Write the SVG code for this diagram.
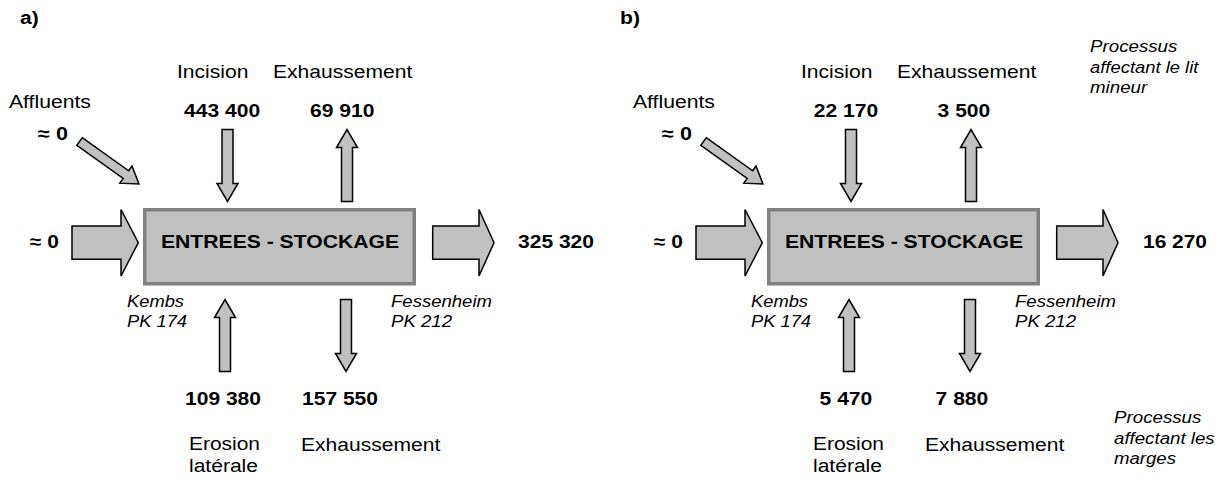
<svg xmlns="http://www.w3.org/2000/svg" xmlns:xlink="http://www.w3.org/1999/xlink" width="1225" height="479" viewBox="0 0 1225 479">
<style>
text{font-family:"Liberation Sans",Arial,sans-serif;fill:#000}
.r{font-size:18px}
.b{font-size:18px;font-weight:bold}
.i{font-size:16px;font-style:italic}
.box{fill:#c0c0c0;stroke:#808080;stroke-width:3.5}
.arr{fill:#c0c0c0;stroke:#000;stroke-width:1.5;stroke-linejoin:miter}
</style>
<defs>
<polygon id="down" class="arr" points="-5.5,0 5.5,0 5.5,54 10.5,54 0,72 -10.5,54 -5.5,54"/>
<polygon id="up" class="arr" points="-5.5,72 5.5,72 5.5,18 10.5,18 0,0 -10.5,18 -5.5,18"/>
<polygon id="diag" class="arr" points="0,-4.7 57,-4.7 57,-10.5 73,0 57,10.5 57,4.7 0,4.7"/>
</defs>
<rect width="1225" height="479" fill="#fff"/>

<!-- Panel a -->
<g id="panel-a-label"><text class="b" x="20" y="24" textLength="18.7" lengthAdjust="spacingAndGlyphs">a)</text></g>
<g id="a-box">
<rect class="box" x="144.75" y="209.75" width="269.5" height="74"/>
<text class="b" x="161" y="248" textLength="238" lengthAdjust="spacingAndGlyphs">ENTREES - STOCKAGE</text>
</g>
<g id="a-incision">
<text class="r" x="177" y="78" textLength="71.4" lengthAdjust="spacingAndGlyphs">Incision</text>
<text class="b" x="184" y="117" textLength="76.1" lengthAdjust="spacingAndGlyphs">443 400</text>
</g>
<g id="a-exh-top">
<text class="r" x="273" y="78" textLength="139.3" lengthAdjust="spacingAndGlyphs">Exhaussement</text>
<text class="b" x="310" y="117" textLength="64.4" lengthAdjust="spacingAndGlyphs">69 910</text>
</g>
<g id="a-affluents">
<text class="r" x="9" y="108" textLength="81.9" lengthAdjust="spacingAndGlyphs">Affluents</text>
<text class="b" x="38" y="140" textLength="30" lengthAdjust="spacingAndGlyphs">≈ 0</text>
</g>
<g id="a-in"><text class="b" x="30" y="248" textLength="29" lengthAdjust="spacingAndGlyphs">≈ 0</text></g>
<g id="a-out"><text class="b" x="518" y="248" textLength="76" lengthAdjust="spacingAndGlyphs">325 320</text></g>
<g id="a-kembs">
<text class="i" x="127" y="307" textLength="57" lengthAdjust="spacingAndGlyphs">Kembs</text>
<text class="i" x="127" y="327" textLength="60" lengthAdjust="spacingAndGlyphs">PK 174</text>
</g>
<g id="a-fessenheim">
<text class="i" x="391" y="306.5" textLength="101" lengthAdjust="spacingAndGlyphs">Fessenheim</text>
<text class="i" x="391" y="327" textLength="61" lengthAdjust="spacingAndGlyphs">PK 212</text>
</g>
<g id="a-erosion">
<text class="b" x="185" y="405" textLength="76" lengthAdjust="spacingAndGlyphs">109 380</text>
<text class="r" x="189" y="450" textLength="71" lengthAdjust="spacingAndGlyphs">Erosion</text>
<text class="r" x="189" y="472" textLength="69" lengthAdjust="spacingAndGlyphs">latérale</text>
</g>
<g id="a-exh-bottom">
<text class="b" x="302" y="405" textLength="76" lengthAdjust="spacingAndGlyphs">157 550</text>
<text class="r" x="301" y="451" textLength="139.3" lengthAdjust="spacingAndGlyphs">Exhaussement</text>
</g>

<!-- Panel b -->
<g id="panel-b-label"><text class="b" x="620" y="24" textLength="20" lengthAdjust="spacingAndGlyphs">b)</text></g>
<g id="b-box">
<rect class="box" x="768.75" y="209.75" width="269.5" height="74"/>
<text class="b" x="785" y="248" textLength="238" lengthAdjust="spacingAndGlyphs">ENTREES - STOCKAGE</text>
</g>
<g id="b-incision">
<text class="r" x="801" y="78" textLength="71.4" lengthAdjust="spacingAndGlyphs">Incision</text>
<text class="b" x="813.8" y="117" textLength="64.4" lengthAdjust="spacingAndGlyphs">22 170</text>
</g>
<g id="b-exh-top">
<text class="r" x="897" y="78" textLength="139.3" lengthAdjust="spacingAndGlyphs">Exhaussement</text>
<text class="b" x="937.6" y="117" textLength="52.7" lengthAdjust="spacingAndGlyphs">3 500</text>
</g>
<g id="b-affluents">
<text class="r" x="633" y="108" textLength="81.9" lengthAdjust="spacingAndGlyphs">Affluents</text>
<text class="b" x="662" y="140" textLength="30" lengthAdjust="spacingAndGlyphs">≈ 0</text>
</g>
<g id="b-proc-top">
<text class="i" x="1090" y="52" textLength="87.4" lengthAdjust="spacingAndGlyphs">Processus</text>
<text class="i" x="1090" y="72.5" textLength="108.4" lengthAdjust="spacingAndGlyphs">affectant le lit</text>
<text class="i" x="1090" y="93" textLength="57.2" lengthAdjust="spacingAndGlyphs">mineur</text>
</g>
<g id="b-in"><text class="b" x="654" y="248" textLength="29" lengthAdjust="spacingAndGlyphs">≈ 0</text></g>
<g id="b-out"><text class="b" x="1143" y="248" textLength="64" lengthAdjust="spacingAndGlyphs">16 270</text></g>
<g id="b-kembs">
<text class="i" x="751" y="307" textLength="57" lengthAdjust="spacingAndGlyphs">Kembs</text>
<text class="i" x="751" y="327" textLength="60" lengthAdjust="spacingAndGlyphs">PK 174</text>
</g>
<g id="b-fessenheim">
<text class="i" x="1015" y="306.5" textLength="101" lengthAdjust="spacingAndGlyphs">Fessenheim</text>
<text class="i" x="1015" y="327" textLength="61" lengthAdjust="spacingAndGlyphs">PK 212</text>
</g>
<g id="b-erosion">
<text class="b" x="819.6" y="405" textLength="52.7" lengthAdjust="spacingAndGlyphs">5 470</text>
<text class="r" x="813" y="450" textLength="71" lengthAdjust="spacingAndGlyphs">Erosion</text>
<text class="r" x="813" y="472" textLength="69" lengthAdjust="spacingAndGlyphs">latérale</text>
</g>
<g id="b-exh-bottom">
<text class="b" x="935.6" y="405" textLength="52.7" lengthAdjust="spacingAndGlyphs">7 880</text>
<text class="r" x="925" y="451" textLength="139.3" lengthAdjust="spacingAndGlyphs">Exhaussement</text>
</g>
<g id="b-proc-bottom">
<text class="i" x="1114" y="423" textLength="87.4" lengthAdjust="spacingAndGlyphs">Processus</text>
<text class="i" x="1114" y="443.5" textLength="100.6" lengthAdjust="spacingAndGlyphs">affectant les</text>
<text class="i" x="1114" y="464" textLength="62" lengthAdjust="spacingAndGlyphs">marges</text>
</g>

<!-- Connectors (flow arrows) -->
<g id="connectors">
<polygon class="arr" points="72,226 121,226 121,209.5 138.3,242.7 121,276 121,259.3 72,259.3"/>
<polygon class="arr" points="432.7,226 479,226 479,209.5 494,242.7 479,276 479,259.3 432.7,259.3"/>
<use xlink:href="#diag" transform="translate(79.5,141.5) rotate(35.5)"/>
<use xlink:href="#down" x="227.5" y="129.5"/>
<use xlink:href="#up" x="347" y="129.5"/>
<use xlink:href="#up" x="225" y="299.5"/>
<use xlink:href="#down" x="346" y="299.5"/>

<polygon class="arr" points="696,226 745,226 745,209.5 762.3,242.7 745,276 745,259.3 696,259.3"/>
<polygon class="arr" points="1056.7,226 1103,226 1103,209.5 1118,242.7 1103,276 1103,259.3 1056.7,259.3"/>
<use xlink:href="#diag" transform="translate(703.5,141.5) rotate(35.5)"/>
<use xlink:href="#down" x="851" y="129.5"/>
<use xlink:href="#up" x="971" y="129.5"/>
<use xlink:href="#up" x="849" y="299.5"/>
<use xlink:href="#down" x="970" y="299.5"/>
</g>
</svg>
